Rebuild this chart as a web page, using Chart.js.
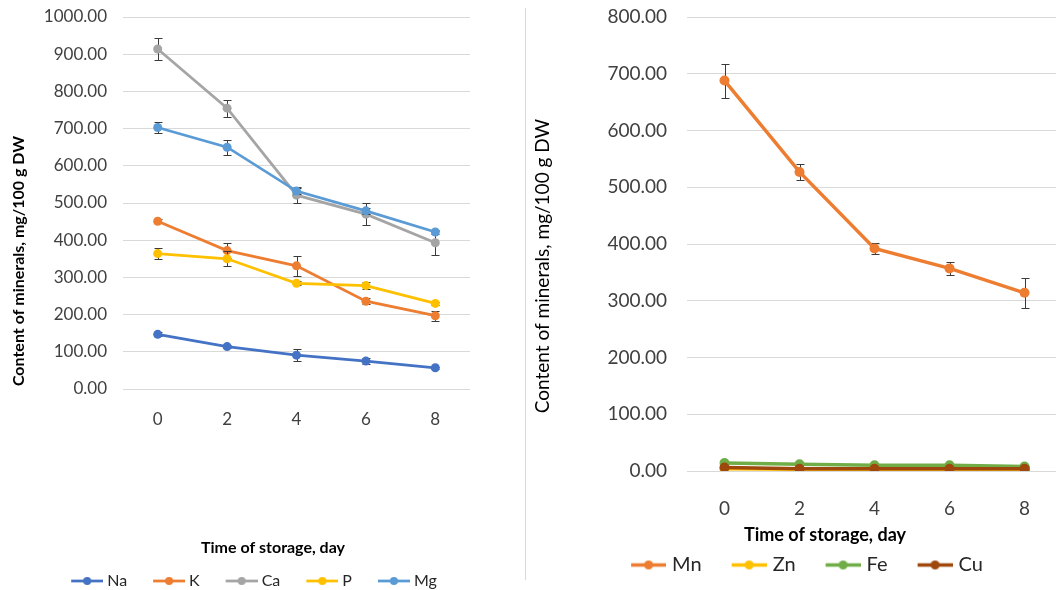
<!DOCTYPE html>
<html>
<head>
<meta charset="utf-8">
<script src="https://cdn.jsdelivr.net/npm/chart.js@4.4.1/dist/chart.umd.min.js"></script>
<style>
  html, body { margin: 0; padding: 0; background: #fff; }
  body { width: 1056px; height: 590px; overflow: hidden; position: relative; }
  #izq { position: absolute; left: 0; top: 0; }
  #der { position: absolute; left: 530px; top: 0; }
  #separador { position: absolute; left: 525px; top: 8px; width: 1px; height: 572px; background: #d9d9d9; }
</style>
</head>
<body>
<canvas id="izq" width="520" height="590"></canvas>
<div id="separador"></div>
<canvas id="der" width="540" height="590"></canvas>
<script>
// ======================= DATOS =======================
const dias = ["0", "2", "4", "6", "8"];

// Macroelementos (grafico izquierdo)
const na = [147, 114, 91, 75, 57];
const naErr = [5, 5, 17, 8, 3];
const k = [451, 372, 331, 236, 197];
const kErr = [5, 20, 27, 8, 14];
const ca = [914, 755, 521, 470, 393];
const caErr = [29, 23, 21, 30, 33];
const p = [364, 350, 284, 278, 230];
const pErr = [15, 20, 5, 10, 5];
const mg = [703, 650, 532, 479, 422];
const mgErr = [14, 20, 8, 8, 5];

// Microelementos (grafico derecho)
const mn = [688, 527, 392, 357, 314];
const mnErr = [30, 14, 9, 11, 26];
const zn = [4, 3, 3, 3, 1.5];
const znErr = [0.5, 0.5, 0.5, 0.5, 0.5];
const fe = [14, 12, 10, 10, 8];
const feErr = [1, 1, 1, 1, 1];
const cu = [6, 4, 4, 4, 4];
const cuErr = [0.5, 0.5, 0.5, 0.5, 0.5];

const ticksIzq = [0, 100, 200, 300, 400, 500, 600, 700, 800, 900, 1000];
const ticksDer = [0, 100, 200, 300, 400, 500, 600, 700, 800];

const FUENTE = "Lato, 'Open Sans', sans-serif";
const TEXTO = "#404040";

// icono de leyenda: linea con punto al medio
function iconoLinea(color, largo, grosor, radio, corrimiento) {
  const c = document.createElement("canvas");
  c.width = largo + corrimiento * 2;
  c.height = radio * 2 + 2;
  const ctx = c.getContext("2d");
  const y = c.height / 2;
  ctx.strokeStyle = color;
  ctx.lineWidth = grosor;
  ctx.beginPath();
  ctx.moveTo(corrimiento * 2, y);
  ctx.lineTo(corrimiento * 2 + largo, y);
  ctx.stroke();
  ctx.fillStyle = color;
  ctx.beginPath();
  ctx.arc(corrimiento * 2 + largo / 2, y, radio, 0, 2 * Math.PI);
  ctx.fill();
  return c;
}

// barras de error con tope (debajo de los marcadores)
const barrasError = {
  id: "barrasError",
  beforeDatasetDraw(chart, args) {
    const ds = chart.data.datasets[args.index];
    if (!ds.errores) return;
    const ctx = chart.ctx;
    const escalaY = chart.scales.y;
    ctx.save();
    ctx.strokeStyle = "#3a3a3a";
    ctx.lineWidth = 1;
    args.meta.data.forEach((pt, j) => {
      const e = ds.errores[j];
      const arriba = Math.round(escalaY.getPixelForValue(ds.data[j] + e)) + 0.5;
      const abajo = Math.round(escalaY.getPixelForValue(ds.data[j] - e)) + 0.5;
      const x = Math.round(pt.x) + 0.5;
      ctx.beginPath();
      ctx.moveTo(x, arriba);
      ctx.lineTo(x, abajo);
      ctx.moveTo(x - 4, arriba);
      ctx.lineTo(x + 4, arriba);
      ctx.moveTo(x - 4, abajo);
      ctx.lineTo(x + 4, abajo);
      ctx.stroke();
    });
    ctx.restore();
  }
};

// titulos de ejes dibujados a mano (no centrados en el area del grafico)
const titulosEjes = {
  id: "titulosEjes",
  afterDraw(chart, args, opts) {
    const ctx = chart.ctx;
    (opts.items || []).forEach(t => {
      ctx.save();
      ctx.font = t.font;
      ctx.fillStyle = "#000";
      ctx.textAlign = "center";
      ctx.textBaseline = "middle";
      ctx.translate(t.x, t.y);
      if (t.rotar) ctx.rotate(-Math.PI / 2);
      ctx.fillText(t.texto, 0, 0);
      ctx.restore();
    });
  }
};

function serie(nombre, datos, errores, color, cfg, idx, total) {
  return {
    label: nombre,
    data: datos,
    errores: errores,
    borderColor: color,
    backgroundColor: color,
    borderWidth: cfg.grosor,
    pointStyle: "circle",
    pointRadius: cfg.radio,
    pointHoverRadius: cfg.radio,
    pointBorderWidth: 0,
    tension: 0,
    order: total - idx,
    icono: iconoLinea(color, cfg.largo, cfg.grosor, cfg.radio - 0.5, 4)
  };
}

function crearGrafico(id, series, cfg) {
  const total = series.length;
  return new Chart(document.getElementById(id), {
    type: "line",
    data: {
      labels: dias,
      datasets: series.map((s, i) => serie(s[0], s[1], s[2], s[3], cfg, i, total))
    },
    options: {
      responsive: false,
      animation: false,
      layout: { padding: cfg.padding },
      scales: {
        x: {
          offset: true,
          grid: { display: false },
          border: { display: false },
          ticks: { color: TEXTO, padding: cfg.padX, font: { family: FUENTE, size: cfg.fuenteTick } },
          afterFit: s => { s.height = cfg.altoX; }
        },
        y: {
          min: 0,
          max: cfg.ticks[cfg.ticks.length - 1],
          afterBuildTicks: s => { s.ticks = cfg.ticks.map(v => ({ value: v })); },
          grid: { color: "#d9d9d9", lineWidth: 1, drawTicks: false },
          border: { display: false },
          ticks: {
            color: TEXTO,
            padding: cfg.padY,
            font: { family: FUENTE, size: cfg.fuenteTick },
            callback: v => Number(v).toFixed(2)
          },
          afterFit: s => {
            s.width = cfg.anchoY;
            s.paddingTop = 0;
            s.paddingBottom = 0;
          }
        }
      },
      plugins: {
        tooltip: { enabled: false },
        legend: {
          position: "bottom",
          labels: {
            usePointStyle: true,
            pointStyleWidth: cfg.largo,
            padding: cfg.padLeyenda,
            color: "#262626",
            font: { family: FUENTE, size: cfg.fuenteLeyenda },
            sort: (a, b) => a.datasetIndex - b.datasetIndex,
            generateLabels: chart => Chart.defaults.plugins.legend.labels.generateLabels(chart).map(l => {
              l.pointStyle = chart.data.datasets[l.datasetIndex].icono;
              return l;
            })
          }
        },
        titulosEjes: { items: cfg.titulos }
      }
    },
    plugins: [barrasError, titulosEjes]
  });
}

crearGrafico("izq", [
  ["Na", na, naErr, "#4472C4"],
  ["K", k, kErr, "#ED7D31"],
  ["Ca", ca, caErr, "#A5A5A5"],
  ["P", p, pErr, "#FFC000"],
  ["Mg", mg, mgErr, "#5B9BD5"]
], {
  ticks: ticksIzq,
  grosor: 2.75,
  radio: 4.5,
  largo: 32,
  padding: { top: 17, right: 50, left: 34, bottom: -9 },
  padX: 12,
  padY: 16,
  anchoY: 89,
  altoX: 162,
  fuenteTick: 17,
  fuenteLeyenda: 16,
  padLeyenda: 22,
  titulos: [
    { texto: "Content of minerals, mg/100 g DW", x: 19, y: 261, rotar: true, font: "bold 16px " + FUENTE },
    { texto: "Time of storage, day", x: 273, y: 548, font: "bold 16px " + FUENTE }
  ]
});

crearGrafico("der", [
  ["Mn", mn, mnErr, "#ED7D31"],
  ["Zn", zn, znErr, "#FFC000"],
  ["Fe", fe, feErr, "#70AD47"],
  ["Cu", cu, cuErr, "#9E480E"]
], {
  ticks: ticksDer,
  grosor: 3.5,
  radio: 5,
  largo: 35,
  padding: { top: 17, right: 8, left: 18, bottom: 5 },
  padX: 18,
  padY: 20,
  anchoY: 139,
  altoX: 58,
  fuenteTick: 19,
  fuenteLeyenda: 20,
  padLeyenda: 26,
  titulos: [
    { texto: "Content of minerals, mg/100 g DW", x: 13, y: 266, rotar: true, font: "19px " + FUENTE },
    { texto: "Time of storage, day", x: 295, y: 535, font: "bold 18px " + FUENTE }
  ]
});
</script>
</body>
</html>
